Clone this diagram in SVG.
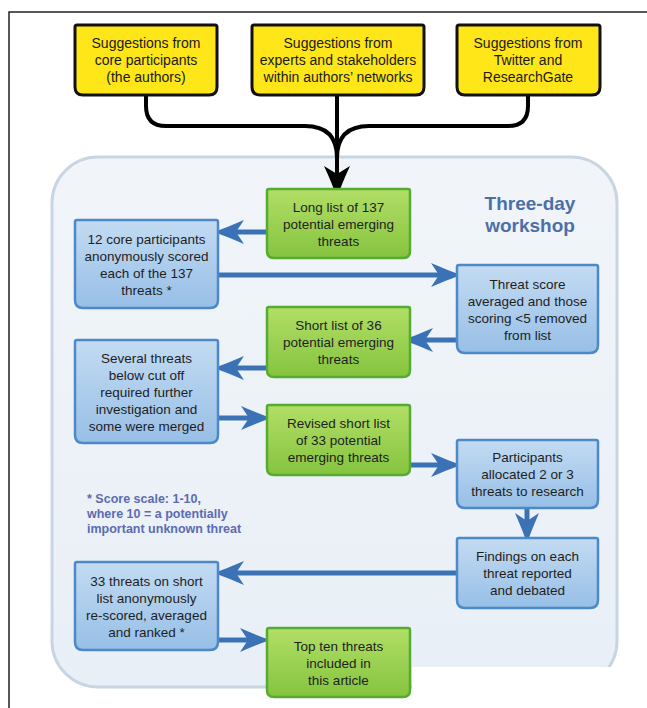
<svg xmlns="http://www.w3.org/2000/svg" width="647" height="708" viewBox="0 0 647 708">
<defs>
<linearGradient id="gBlue" x1="0" y1="0" x2="0" y2="1"><stop offset="0" stop-color="#c3dbf2"/><stop offset="1" stop-color="#97bfe6"/></linearGradient>
<linearGradient id="gGreen" x1="0" y1="0" x2="0" y2="1"><stop offset="0" stop-color="#b2de66"/><stop offset="1" stop-color="#85c43f"/></linearGradient>
<linearGradient id="gBg" x1="0" y1="0" x2="0" y2="1"><stop offset="0" stop-color="#f1f5f9"/><stop offset="1" stop-color="#e8eff6"/></linearGradient>
<marker id="ahBlue" markerUnits="userSpaceOnUse" refX="0" refY="0" markerWidth="40" markerHeight="30" orient="auto" style="overflow:visible">
<path d="M22,0 Q8,-5 -8,-12 L0,0 L-8,12 Q8,5 22,0 Z" fill="#3b72b6"/>
</marker>
<marker id="ahBlack" markerUnits="userSpaceOnUse" refX="0" refY="0" markerWidth="40" markerHeight="30" orient="auto" style="overflow:visible">
<path d="M24,0 Q9,-5 -8,-13 L0,0 L-8,13 Q9,5 24,0 Z" fill="#000"/>
</marker>
</defs>
<style>
.t{font-family:"Liberation Sans",Arial,sans-serif;font-size:13.5px;fill:#1e1e1e;text-anchor:middle}
.ty{font-family:"Liberation Sans",Arial,sans-serif;font-size:14px;fill:#1a1a1a;text-anchor:middle}
.yellow{fill:#ffe619;stroke:#111;stroke-width:3}
.green{fill:url(#gGreen);stroke:#56ab32;stroke-width:2.5}
.blue{fill:url(#gBlue);stroke:#4d88c8;stroke-width:2.5}
.ab{stroke:#3b72b6;stroke-width:5;fill:none;marker-end:url(#ahBlue)}
.bk{stroke:#000;stroke-width:4;fill:none}
.title{font-family:"Liberation Sans",Arial,sans-serif;font-size:19px;font-weight:bold;fill:#4c6fa8;text-anchor:middle}
.note{font-family:"Liberation Sans",Arial,sans-serif;font-size:12.5px;font-weight:bold;fill:#5b6cb0}
</style>
<rect x="0" y="0" width="647" height="708" fill="#fff"/>
<path d="M9,708 V12 H647" fill="none" stroke="#222" stroke-width="1.5"/>
<rect id="workshop-bg" x="52" y="157" width="565" height="530" rx="46" fill="url(#gBg)" stroke="#c8d5e2" stroke-width="3"/>
<rect x="412" y="667" width="235" height="41" fill="#fff"/>
<text class="title" x="530" y="210">Three-day</text>
<text class="title" x="530" y="232">workshop</text>

<g id="connectors">
<path class="bk" d="M146,95 V106 Q146,126 166,126 H305 Q337,126 337,158"/>
<path class="bk" d="M528,95 V106 Q528,126 508,126 H369 Q337,126 337,158"/>
<path class="bk" d="M337,95 V174" marker-end="url(#ahBlack)"/>
<path class="ab" d="M267,232 H236"/>
<path class="ab" d="M218,275 H439"/>
<path class="ab" d="M457,340 H425"/>
<path class="ab" d="M267,368 H236"/>
<path class="ab" d="M218,418 H249"/>
<path class="ab" d="M410,465 H439"/>
<path class="ab" d="M527,508 V521"/>
<path class="ab" d="M457,573 H236"/>
<path class="ab" d="M218,640 H248"/>
</g>

<g id="src-authors">
<path class="yellow" d="M77,25 H215 Q217,25 217,27 V87 Q217,95 209,95 H83 Q75,95 75,87 V27 Q75,25 77,25 Z"/>
<text class="ty" x="146" y="48">Suggestions from</text>
<text class="ty" x="146" y="65">core participants</text>
<text class="ty" x="146" y="82">(the authors)</text>
</g>
<g id="src-experts">
<path class="yellow" d="M254,25 H422 Q424,25 424,27 V87 Q424,95 416,95 H260 Q252,95 252,87 V27 Q252,25 254,25 Z"/>
<text class="ty" x="338" y="48">Suggestions from</text>
<text class="ty" x="338" y="65">experts and stakeholders</text>
<text class="ty" x="338" y="82">within authors’ networks</text>
</g>
<g id="src-twitter">
<path class="yellow" d="M459,25 H598 Q600,25 600,27 V87 Q600,95 592,95 H465 Q457,95 457,87 V27 Q457,25 459,25 Z"/>
<text class="ty" x="528" y="48">Suggestions from</text>
<text class="ty" x="528" y="65">Twitter and</text>
<text class="ty" x="528" y="82">ResearchGate</text>
</g>

<g id="long-list">
<path class="green" d="M269,189 H408 Q410,189 410,191 V251 Q410,258 403,258 H274 Q267,258 267,251 V191 Q267,189 269,189 Z"/>
<text class="t" x="338.5" y="211.5">Long list of 137</text>
<text class="t" x="338.5" y="228.5">potential emerging</text>
<text class="t" x="338.5" y="245.5">threats</text>
</g>
<g id="scored">
<path class="blue" d="M77,220 H216 Q218,220 218,222 V300 Q218,308 210,308 H83 Q75,308 75,300 V222 Q75,220 77,220 Z"/>
<text class="t" x="146.5" y="243.5">12 core participants</text>
<text class="t" x="146.5" y="260.5">anonymously scored</text>
<text class="t" x="146.5" y="277.5">each of the 137</text>
<text class="t" x="146.5" y="294.5">threats *</text>
</g>
<g id="averaged">
<path class="blue" d="M459,265 H596 Q598,265 598,267 V345 Q598,353 590,353 H465 Q457,353 457,345 V267 Q457,265 459,265 Z"/>
<text class="t" x="527.5" y="288.5">Threat score</text>
<text class="t" x="527.5" y="305.5">averaged and those</text>
<text class="t" x="527.5" y="322.5">scoring &lt;5 removed</text>
<text class="t" x="527.5" y="339.5">from list</text>
</g>
<g id="short-list">
<path class="green" d="M269,307 H408 Q410,307 410,309 V370 Q410,377 403,377 H274 Q267,377 267,370 V309 Q267,307 269,307 Z"/>
<text class="t" x="338.5" y="330">Short list of 36</text>
<text class="t" x="338.5" y="347">potential emerging</text>
<text class="t" x="338.5" y="364">threats</text>
</g>
<g id="investigated">
<path class="blue" d="M77,340 H216 Q218,340 218,342 V435 Q218,443 210,443 H83 Q75,443 75,435 V342 Q75,340 77,340 Z"/>
<text class="t" x="146.5" y="362.5">Several threats</text>
<text class="t" x="146.5" y="379.5">below cut off</text>
<text class="t" x="146.5" y="396.5">required further</text>
<text class="t" x="146.5" y="413.5">investigation and</text>
<text class="t" x="146.5" y="430.5">some were merged</text>
</g>
<g id="revised-list">
<path class="green" d="M269,405 H408 Q410,405 410,407 V468 Q410,475 403,475 H274 Q267,475 267,468 V407 Q267,405 269,405 Z"/>
<text class="t" x="338.5" y="428">Revised short list</text>
<text class="t" x="338.5" y="445">of 33 potential</text>
<text class="t" x="338.5" y="462">emerging threats</text>
</g>
<g id="allocated">
<path class="blue" d="M459,440 H596 Q598,440 598,442 V500 Q598,508 590,508 H465 Q457,508 457,500 V442 Q457,440 459,440 Z"/>
<text class="t" x="527.5" y="462">Participants</text>
<text class="t" x="527.5" y="479">allocated 2 or 3</text>
<text class="t" x="527.5" y="496">threats to research</text>
</g>
<g id="findings">
<path class="blue" d="M459,538 H596 Q598,538 598,540 V600 Q598,608 590,608 H465 Q457,608 457,600 V540 Q457,538 459,538 Z"/>
<text class="t" x="527.5" y="561">Findings on each</text>
<text class="t" x="527.5" y="578">threat reported</text>
<text class="t" x="527.5" y="595">and debated</text>
</g>
<g id="rescored">
<path class="blue" d="M77,562 H216 Q218,562 218,564 V642 Q218,650 210,650 H83 Q75,650 75,642 V564 Q75,562 77,562 Z"/>
<text class="t" x="146.5" y="585.5">33 threats on short</text>
<text class="t" x="146.5" y="602.5">list anonymously</text>
<text class="t" x="146.5" y="619.5">re-scored, averaged</text>
<text class="t" x="146.5" y="636.5">and ranked *</text>
</g>
<g id="top-ten">
<path class="green" d="M269,628 H408 Q410,628 410,630 V690 Q410,697 403,697 H274 Q267,697 267,690 V630 Q267,628 269,628 Z"/>
<text class="t" x="338.5" y="650.5">Top ten threats</text>
<text class="t" x="338.5" y="667.5">included in</text>
<text class="t" x="338.5" y="684.5">this article</text>
</g>
<g id="note">
<text class="note" x="87" y="503">* Score scale: 1-10,</text>
<text class="note" x="87" y="518">where 10 = a potentially</text>
<text class="note" x="87" y="533">important unknown threat</text>
</g>
</svg>
